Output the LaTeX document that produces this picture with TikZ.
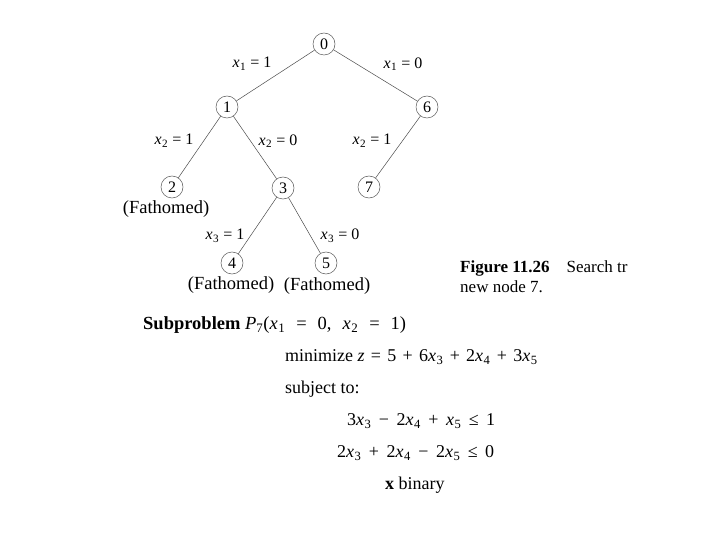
\documentclass[tikz,border=0pt]{standalone}
\usepackage{fontspec}
\setmainfont{Liberation Serif}
\newcommand\xs[1]{\textit{x}\kern0.5pt\textsubscript{#1}}
\newcommand\sq{\hspace{1.8pt}}
\newcommand\sw{\hspace{11pt}}
\begin{document}
\begin{tikzpicture}[x=1pt,y=-1pt,
  tn/.style={circle,draw=black!65,line width=0.5pt,minimum size=22pt,inner sep=0pt,font=\fontsize{16}{18}\selectfont},
  ed/.style={draw=black!70,line width=0.5pt},
  lb/.style={font=\fontsize{16}{18}\selectfont,inner sep=0pt},
  fa/.style={font=\fontsize{18.5}{20}\selectfont,inner sep=0pt},
  tx/.style={font=\fontsize{18}{20}\selectfont,inner sep=0pt,anchor=west}]
\useasboundingbox[fill=white] (0,0) rectangle (720,540);
\node[tn] (n0) at (324,44) {0};
\node[tn] (n1) at (227,107) {1};
\node[tn] (n6) at (427,107) {6};
\node[tn] (n2) at (172,187) {2};
\node[tn] (n3) at (283,188) {3};
\node[tn] (n7) at (369,187) {7};
\node[tn] (n4) at (232,263) {4};
\node[tn] (n5) at (326,263) {5};
\draw[ed] (n0) -- (n1);
\draw[ed] (n0) -- (n6);
\draw[ed] (n1) -- (n2);
\draw[ed] (n1) -- (n3);
\draw[ed] (n6) -- (n7);
\draw[ed] (n3) -- (n4);
\draw[ed] (n3) -- (n5);
\node[lb] (l1) at (252,64) {\xs{1} = 1};
\node[lb] (l2) at (403,64) {\xs{1} = 0};
\node[lb] (l3) at (174,141) {\xs{2} = 1};
\node[lb] (l4) at (278,141) {\xs{2} = 0};
\node[lb] (l5) at (372,141) {\xs{2} = 1};
\node[lb] (l6) at (225,236) {\xs{3} = 1};
\node[lb] (l7) at (340,236) {\xs{3} = 0};
\node[fa] (f2) at (166,209) {(Fathomed)};
\node[fa] (f4) at (231,285) {(Fathomed)};
\node[fa] (f5) at (327,286) {(Fathomed)};
\node[tx,font=\fontsize{17}{19}\selectfont] (fig1) at (460,268) {\textbf{Figure 11.26}\quad Search tr};
\node[tx,font=\fontsize{17}{19}\selectfont] (fig2) at (460,287) {new node 7.};
\node[tx,font=\fontsize{18.5}{20}\selectfont] (sub) at (143,325) {\textbf{Subproblem} \textit{P}\textsubscript{7}(\xs{1}\sw=\sw0,\sw\xs{2}\sw=\sw1)};
\node[tx] (min) at (285,357) {minimize \textit{z}\sq{} =\sq{} 5\sq{} +\sq{} 6\xs{3}\sq{} +\sq{} 2\xs{4}\sq{} +\sq{} 3\xs{5}};
\node[tx] (st) at (285,389) {subject to:};
\node[tx] (c1) at (347,421) {3\xs{3}\, − \,2\xs{4}\, + \,\xs{5}\, ≤ \,1};
\node[tx] (c2) at (337,453) {2\xs{3}\, + \,2\xs{4}\, − \,2\xs{5}\, ≤ \,0};
\node[tx] (bin) at (385,485) {\textbf{x} binary};
\end{tikzpicture}
\end{document}
